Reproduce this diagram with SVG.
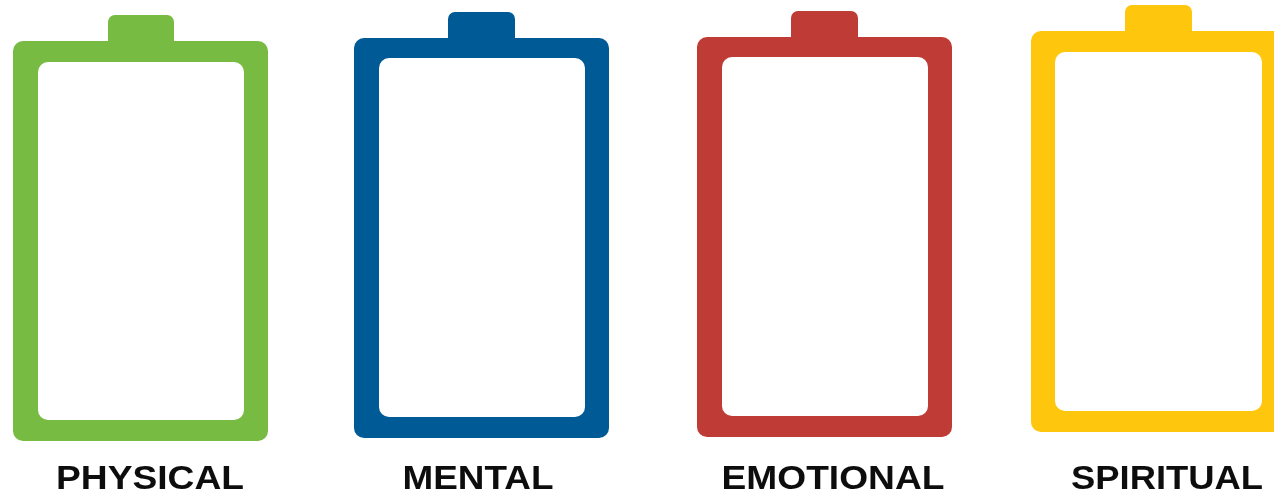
<svg xmlns="http://www.w3.org/2000/svg" width="1274" height="491" viewBox="0 0 1274 491">
<style>
.t{font-family:"Liberation Sans",Arial,sans-serif;font-weight:700;font-size:34px;fill:#111;text-anchor:middle}
.i{fill:#fff}
.b{filter:url(#soft)}
</style>
<defs><filter id="soft" x="-5%" y="-5%" width="110%" height="110%"><feGaussianBlur stdDeviation="0.6"/></filter></defs>
<rect width="1274" height="491" fill="#fff"/>
<g id="physical"><g class="b"><rect x="108" y="15" width="66" height="40" rx="7" fill="#78bb43"/><rect x="13" y="41" width="255" height="400" rx="10" fill="#78bb43"/><rect class="i" x="38" y="62" width="206" height="358" rx="10"/><text class="t" x="150" y="488.5" textLength="188" lengthAdjust="spacingAndGlyphs">PHYSICAL</text></g></g>
<g id="mental"><g class="b"><rect x="448" y="12" width="67" height="40" rx="7" fill="#005a96"/><rect x="354" y="38" width="255" height="400" rx="10" fill="#005a96"/><rect class="i" x="379" y="58" width="206" height="359" rx="10"/><text class="t" x="478" y="488.5" textLength="151" lengthAdjust="spacingAndGlyphs">MENTAL</text></g></g>
<g id="emotional"><g class="b"><rect x="791" y="11" width="67" height="40" rx="7" fill="#bf3b35"/><rect x="697" y="37" width="255" height="400" rx="10" fill="#bf3b35"/><rect class="i" x="722" y="57" width="206" height="359" rx="10"/><text class="t" x="833" y="488.5" textLength="223" lengthAdjust="spacingAndGlyphs">EMOTIONAL</text></g></g>
<g id="spiritual"><g class="b"><rect x="1125" y="5" width="67" height="40" rx="7" fill="#fec60a"/><rect x="1031" y="31" width="255" height="401" rx="10" fill="#fec60a"/><rect class="i" x="1055" y="52" width="207" height="359" rx="10"/><text class="t" x="1167" y="488.5" textLength="192" lengthAdjust="spacingAndGlyphs">SPIRITUAL</text></g></g>
</svg>
